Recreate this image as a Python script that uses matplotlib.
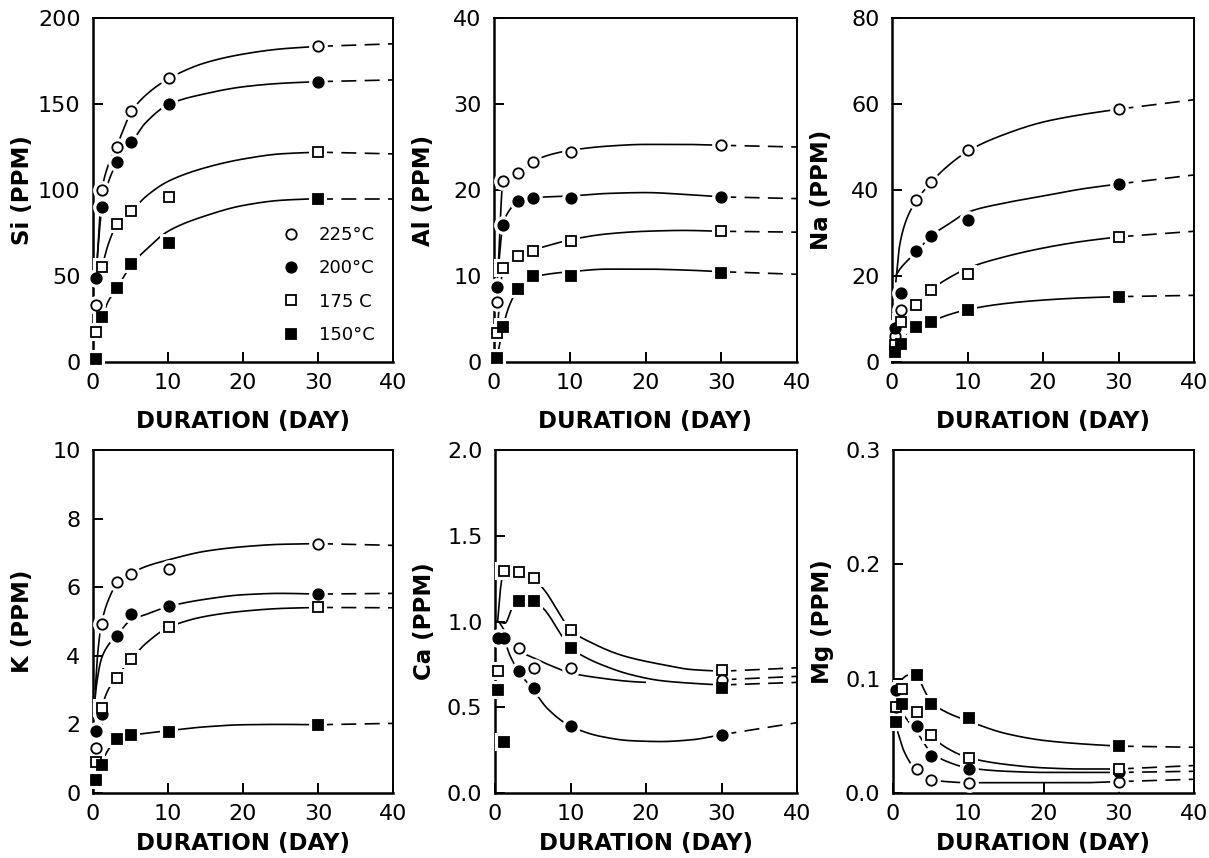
import numpy as np
import matplotlib
matplotlib.use("Agg")
import matplotlib.pyplot as plt
from matplotlib.lines import Line2D

plt.rcParams['font.family'] = ['DejaVu Sans']

# ---------------- data ----------------
days = [0.35, 1.15, 3.2, 5.1, 10.1, 30.0]
temp_labels = ["225°C", "200°C", "175 C", "150°C"]
x_ticks = [0, 10, 20, 30, 40]

# Si (PPM)
si_225 = [33, 100, 125, 146, 165, 183.5]
si_200 = [49, 90, 116, 128, 150, 163]
si_175 = [17.5, 55, 80, 88, 96, 122]
si_150 = [1.5, 26, 43, 57, 69, 95]
si_225_cx = [0.5, 1.2, 2, 3.2, 5.2, 7, 10.2, 15, 20, 25, 30]
si_225_cy = [55, 100, 114, 126, 146, 155, 165, 174, 179, 182, 183.5]
si_200_cx = [0.35, 1.2, 2, 3.2, 5.2, 7, 10.2, 15, 20, 25, 30]
si_200_cy = [49, 90, 104, 116, 128, 139, 150, 156, 160, 162, 163]
si_175_cx = [1.2, 2, 3.2, 5.2, 7, 10, 15, 20, 25, 30]
si_175_cy = [55, 68, 80, 88, 96, 105, 113, 118, 121, 122]
si_150_cx = [1.2, 2, 3.2, 5.2, 7, 10, 15, 20, 25, 30]
si_150_cy = [26, 35, 43, 57, 65, 76, 85, 91, 94, 95]
si_end40 = [185, 164, 121, 95]

# Al (PPM)
al_225 = [7, 21, 22, 23.2, 24.4, 25.2]
al_200 = [8.7, 15.9, 18.7, 19.1, 19.1, 19.2]
al_175 = [3.4, 10.9, 12.3, 12.9, 14.1, 15.2]
al_150 = [0.5, 4.1, 8.5, 10.0, 10.0, 10.3]
al_225_cx = [0.5, 1.2, 2, 3.2, 5, 7, 10, 15, 20, 25, 30]
al_225_cy = [10, 21, 21.5, 22, 23.2, 24, 24.6, 25.1, 25.3, 25.3, 25.2]
al_200_cx = [0.35, 1.2, 2, 3.2, 5, 10, 15, 20, 25, 30]
al_200_cy = [8.7, 16, 17.6, 18.7, 19.1, 19.3, 19.6, 19.7, 19.5, 19.2]
al_175_cx = [0.4, 1.2, 2, 3.2, 5, 7, 10, 15, 20, 25, 30]
al_175_cy = [3.4, 10.9, 11.8, 12.4, 13.0, 13.5, 14.2, 14.9, 15.2, 15.3, 15.2]
al_150_cx = [0.4, 1.2, 2, 3.2, 5, 7, 10, 15, 20, 25, 30]
al_150_cy = [0.5, 4.1, 6.5, 8.5, 9.8, 10.2, 10.5, 10.8, 10.8, 10.7, 10.5]
al_end40 = [25.0, 19.0, 15.1, 10.2]

# Na (PPM)
na_225 = [6.0, 12.2, 37.7, 41.8, 49.3, 58.8]
na_200 = [7.9, 16.0, 25.7, 29.4, 33.0, 41.4]
na_175 = [3.9, 9.4, 13.3, 16.8, 20.5, 29.1]
na_150 = [2.3, 4.2, 8.2, 9.2, 12.0, 15.2]
na_225_cx = [0.5, 1, 2, 3.3, 5.2, 7, 10.3, 15, 20, 25, 30]
na_225_cy = [18.5, 27, 33.5, 37.7, 41.8, 45, 49.3, 53, 55.8, 57.5, 58.8]
na_200_cx = [0.5, 1, 2, 3.3, 5.2, 7, 10.3, 15, 20, 25, 30]
na_200_cy = [20, 21.5, 23.5, 25.7, 29.4, 31.5, 35, 37, 38.6, 40.2, 41.4]
na_175_cx = [1.2, 2, 3.3, 5.2, 7, 10.3, 15, 20, 25, 30]
na_175_cy = [9.4, 11, 13.3, 16.8, 19, 22, 24.5, 26.5, 28, 29.1]
na_150_cx = [0.4, 1.2, 2, 3.2, 5.2, 7, 10.3, 15, 20, 25, 30]
na_150_cy = [3, 4.5, 6.3, 8.2, 9.5, 10.7, 12.3, 13.6, 14.4, 14.9, 15.2]
na_end40 = [61, 43.5, 30.4, 15.5]

# K (PPM)
k_225 = [1.32, 4.93, 6.15, 6.38, 6.54, 7.27]
k_200 = [1.8, 2.29, 4.59, 5.21, 5.44, 5.80]
k_175 = [0.90, 2.49, 3.36, 3.92, 4.83, 5.41]
k_150 = [0.39, 0.83, 1.58, 1.68, 1.78, 1.99]
k_225_cx = [0.3, 0.6, 1.1, 2, 3.2, 5.1, 7, 10.1, 15, 20, 25, 30]
k_225_cy = [3.0, 4.0, 4.9, 5.6, 6.1, 6.4, 6.6, 6.8, 7.05, 7.18, 7.25, 7.27]
k_200_cx = [0.15, 0.5, 1.1, 2, 3.2, 5.1, 7, 10.1, 15, 20, 25, 30]
k_200_cy = [2.5, 3.2, 3.9, 4.3, 4.6, 5.05, 5.2, 5.44, 5.65, 5.78, 5.82, 5.8]
k_175_cx = [1.1, 2, 3.2, 5.1, 7, 10.1, 15, 20, 25, 30]
k_175_cy = [2.49, 3.0, 3.4, 3.9, 4.35, 4.83, 5.15, 5.3, 5.38, 5.41]
k_150_cx = [0.3, 1.1, 2, 3.2, 5.1, 7, 10.1, 15, 20, 25, 30]
k_150_cy = [0.39, 0.83, 1.25, 1.55, 1.68, 1.74, 1.82, 1.93, 1.99, 2.0, 1.99]
k_end40 = [7.22, 5.82, 5.40, 2.03]

# Ca (PPM)
ca_225 = [np.nan, np.nan, 0.845, 0.728, 0.728, 0.66]
ca_200 = [0.903, 0.903, 0.709, 0.611, 0.39, 0.34]
ca_175 = [0.709, 1.295, 1.287, 1.256, 0.951, 0.718]
ca_150 = [0.60, 0.30, 1.12, 1.12, 0.845, 0.615]
ca_225_cx = [0.5, 1.5, 2.6, 4, 5, 7, 10, 14, 18, 20]
ca_225_cy = [1.0, 0.93, 0.86, 0.81, 0.79, 0.75, 0.70, 0.67, 0.65, 0.645]
ca_200_cx = [0.35, 1.15, 2, 3.1, 4.9, 7, 10, 14, 18, 22, 26, 30]
ca_200_cy = [0.903, 0.89, 0.80, 0.71, 0.61, 0.49, 0.39, 0.33, 0.305, 0.30, 0.31, 0.34]
ca_175_cx = [0.35, 0.75, 1.15, 3.1, 4.9, 6.6, 8.6, 10, 12.6, 17, 22, 26, 30]
ca_175_cy = [1.0, 1.2, 1.295, 1.29, 1.256, 1.18, 1.04, 0.95, 0.88, 0.80, 0.75, 0.72, 0.71]
ca_150_cx = [0.4, 1.3, 2.4, 3.1, 4.9, 6.3, 8.8, 10, 11.6, 14, 18, 22, 26, 30]
ca_150_cy = [1.0, 0.99, 1.09, 1.12, 1.12, 1.08, 0.92, 0.845, 0.80, 0.75, 0.69, 0.655, 0.64, 0.63]
ca_end40 = [0.68, 0.41, 0.73, 0.645]

# Mg (PPM)
mg_225 = [0.075, np.nan, 0.021, 0.011, 0.009, 0.010]
mg_200 = [0.090, np.nan, 0.059, 0.032, 0.021, 0.018]
mg_175 = [0.075, 0.091, 0.071, 0.051, 0.031, 0.021]
mg_150 = [0.062, 0.078, 0.103, 0.078, 0.066, 0.041]
mg_225_cx = [0.6, 1.5, 2.7, 5, 7, 10, 15, 20, 25, 30]
mg_225_cy = [0.054, 0.036, 0.023, 0.012, 0.010, 0.009, 0.009, 0.009, 0.009, 0.010]
mg_200_cx = [0.3, 1.1, 2, 3.1, 5, 7, 10, 15, 20, 25, 30]
mg_200_cy = [0.085, 0.072, 0.063, 0.054, 0.036, 0.028, 0.022, 0.019, 0.018, 0.018, 0.018]
mg_175_cx = [1.1, 2, 3.1, 5, 7, 10, 15, 20, 25, 30]
mg_175_cy = [0.091, 0.080, 0.070, 0.051, 0.040, 0.031, 0.025, 0.022, 0.021, 0.021]
mg_150_cx = [0.3, 1.1, 2, 3.1, 4, 5, 7, 10, 15, 20, 25, 30]
mg_150_cy = [0.093, 0.099, 0.103, 0.103, 0.092, 0.080, 0.071, 0.063, 0.052, 0.046, 0.043, 0.041]
mg_end40 = [0.012, 0.019, 0.024, 0.040]

panels = [
    ("Si (PPM)", [0, 50, 100, 150, 200], "%d",
     [si_225, si_200, si_175, si_150],
     [(si_225_cx, si_225_cy), (si_200_cx, si_200_cy), (si_175_cx, si_175_cy), (si_150_cx, si_150_cy)], si_end40),
    ("Al (PPM)", [0, 10, 20, 30, 40], "%d",
     [al_225, al_200, al_175, al_150],
     [(al_225_cx, al_225_cy), (al_200_cx, al_200_cy), (al_175_cx, al_175_cy), (al_150_cx, al_150_cy)], al_end40),
    ("Na (PPM)", [0, 20, 40, 60, 80], "%d",
     [na_225, na_200, na_175, na_150],
     [(na_225_cx, na_225_cy), (na_200_cx, na_200_cy), (na_175_cx, na_175_cy), (na_150_cx, na_150_cy)], na_end40),
    ("K (PPM)", [0, 2, 4, 6, 8, 10], "%d",
     [k_225, k_200, k_175, k_150],
     [(k_225_cx, k_225_cy), (k_200_cx, k_200_cy), (k_175_cx, k_175_cy), (k_150_cx, k_150_cy)], k_end40),
    ("Ca (PPM)", [0.0, 0.5, 1.0, 1.5, 2.0], "%.1f",
     [ca_225, ca_200, ca_175, ca_150],
     [(ca_225_cx, ca_225_cy), (ca_200_cx, ca_200_cy), (ca_175_cx, ca_175_cy), (ca_150_cx, ca_150_cy)], ca_end40),
    ("Mg (PPM)", [0.0, 0.1, 0.2, 0.3], "%.1f",
     [mg_225, mg_200, mg_175, mg_150],
     [(mg_225_cx, mg_225_cy), (mg_200_cx, mg_200_cy), (mg_175_cx, mg_175_cy), (mg_150_cx, mg_150_cy)], mg_end40),
]

# marker styles: 225 open circle, 200 filled circle, 175 open square, 150 filled square
styles = [("o", "white", 7.5), ("o", "black", 7.5), ("s", "white", 6.8), ("s", "black", 7.0)]


def smooth(x, y, xs):
    """Monotone cubic (PCHIP) rendering of a read-off curve."""
    x = np.asarray(x, float)
    y = np.asarray(y, float)
    h = np.diff(x)
    d = np.diff(y) / h
    n = len(x)
    m = np.zeros(n)
    m[0], m[-1] = d[0], d[-1]
    for k in range(1, n - 1):
        if d[k - 1] * d[k] > 0:
            w1 = 2 * h[k] + h[k - 1]
            w2 = h[k] + 2 * h[k - 1]
            m[k] = (w1 + w2) / (w1 / d[k - 1] + w2 / d[k])
    idx = np.clip(np.searchsorted(x, xs) - 1, 0, n - 2)
    t = (xs - x[idx]) / h[idx]
    h00 = 2 * t**3 - 3 * t**2 + 1
    h10 = t**3 - 2 * t**2 + t
    h01 = -2 * t**3 + 3 * t**2
    h11 = t**3 - t**2
    return h00 * y[idx] + h10 * h[idx] * m[idx] + h01 * y[idx + 1] + h11 * h[idx] * m[idx + 1]


W, H = 1209, 858
fig = plt.figure(figsize=(W / 100, H / 100), dpi=100)

# axes boxes in pixels: (left, top, right, bottom)
boxes = [(93, 18, 393, 362), (494, 18, 797, 362), (892, 18, 1194, 362),
         (93, 450, 393, 793), (495, 450, 797, 793), (893, 450, 1194, 793)]
xlabel_gap = [48, 48, 48, 39, 39, 39]

for i, (ylab, yticks, fmt, series, curves, end40) in enumerate(panels):
    l, t, r, b = boxes[i]
    ax = fig.add_axes([l / W, 1 - b / H, (r - l) / W, (b - t) / H])
    ax.set_xlim(0, 40)
    ax.set_ylim(yticks[0], yticks[-1])
    ax.set_xticks(x_ticks)
    ax.set_yticks(yticks)
    ax.set_xticklabels([str(v) for v in x_ticks])
    ax.set_yticklabels([fmt % v for v in yticks])
    ax.tick_params(direction="in", length=7, width=1.4, labelsize=16,
                   top=False, right=False)
    ax.tick_params(axis="y", pad=9)
    ax.tick_params(axis="x", pad=8)
    for side in ["left", "bottom"]:
        ax.spines[side].set_linewidth(1.8)
    for side in ["top", "right"]:
        ax.spines[side].set_linewidth(1.4)

    for j, ((cx, cy), vals) in enumerate(zip(curves, series)):
        xs = np.linspace(cx[0], cx[-1], 400)
        ax.plot(xs, smooth(cx, cy, xs), color="black", lw=1.2, zorder=2,
                solid_capstyle="butt")
        # dashed extrapolation from the 30-day value to day 40
        ax.plot([cx[-1] if cx[-1] >= 29 else days[-1], 40],
                [cy[-1] if cx[-1] >= 29 else vals[-1], end40[j]],
                color="black", lw=1.2, ls=(0, (9, 5)), zorder=2)

    for j, vals in enumerate(series):
        mk, fc, ms = styles[j]
        # white halo so lines break around the symbols
        ax.plot(days, vals, ls="none", marker=mk, ms=ms + 6, mfc="white",
                mec="white", mew=0, zorder=3, clip_on=False)
    for j, vals in enumerate(series):
        mk, fc, ms = styles[j]
        ax.plot(days, vals, ls="none", marker=mk, ms=ms, mfc=fc, mec="black",
                mew=1.3, zorder=4, clip_on=False)

    ax.set_ylabel(ylab, fontsize=16.5, fontweight="bold")
    ax.yaxis.set_label_coords(-59 / (r - l), 0.5)
    ax.set_xlabel("DURATION (DAY)", fontsize=16.5, fontweight="bold", va="top")
    ax.xaxis.set_label_coords(0.5, -xlabel_gap[i] / (b - t))

    if i == 0:
        handles = [Line2D([], [], ls="none", marker=mk, ms=ms, mfc=fc,
                          mec="black", mew=1.3) for (mk, fc, ms) in styles]
        ax.legend(handles, temp_labels, loc="lower right", frameon=False,
                  fontsize=13, numpoints=1, handlelength=1.0,
                  handletextpad=1.05, labelspacing=0.85,
                  borderaxespad=0.6, borderpad=0.4)

fig.savefig("out.png", dpi=100)
